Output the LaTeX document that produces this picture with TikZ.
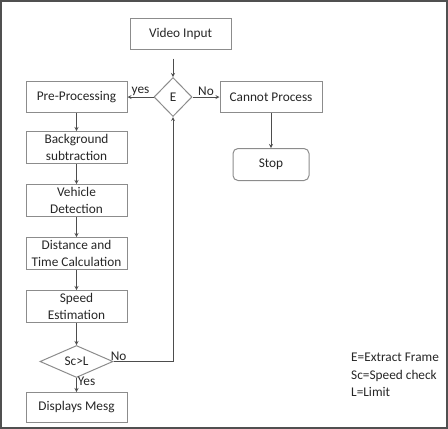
\documentclass[tikz,border=0pt]{standalone}
\usepackage{fontspec}
\setmainfont{Carlito}
\usetikzlibrary{shapes.geometric, arrows, positioning}
\definecolor{boxline}{HTML}{8C8C8C}
\definecolor{arrowline}{HTML}{4D4D4D}
\definecolor{frameline}{HTML}{505050}
\tikzset{
    process/.style={draw=boxline, rectangle, line width=1pt, align=center, minimum width=101pt, minimum height=32pt, inner sep=1pt, text=black!85, font=\fontsize{13.3}{17}\selectfont},
    terminal/.style={process, rounded corners=5pt, minimum width=76pt},
    decision/.style={draw=boxline, diamond, line width=1pt, inner sep=0pt, text=black!85, font=\fontsize{13.3}{17}\selectfont},
    tag/.style={inner sep=1pt, text=black!85, font=\fontsize{13.3}{17.5}\selectfont},
    arrow/.style={->, >=stealth, line width=0.8pt, draw=arrowline}
}
\begin{document}
\begin{tikzpicture}[x=1pt, y=-1pt, node distance=20pt and 26pt]

        % Cornice esterna
        \useasboundingbox (0,0) rectangle (448,429);
        \draw [draw=frameline, line width=2pt] (1,1) rectangle (447,428);

        % Ingresso e primo bivio
        \node (vin) [process, minimum height=31pt] at (180.5,33.5) {Video Input};
        \node (extract) [decision, minimum width=38pt, minimum height=39pt] at (173,97) {E};
        \node (pre) [process, minimum height=31pt, left=26pt of extract] {Pre-Processing};
        \node (nope) [process, minimum height=31pt, minimum width=102pt, right=27pt of extract] {Cannot Process};
        \node (stop) [terminal, below=35pt of nope] {Stop};

        % Colonna di elaborazione
        \node (bg) [process, below=18pt of pre] {Background\\subtraction};
        \node (veh) [process, below=of bg] {Vehicle\\Detection};
        \node (dist) [process, below=of veh] {Distance and\\Time Calculation};
        \node (speed) [process, below=of dist] {Speed\\Estimation};
        \node (check) [decision, aspect=2.3, minimum width=73pt, minimum height=32pt, below=22pt of speed] {Sc>L};
        \node (disp) [process, minimum height=30pt, below=14pt of check] {Displays Mesg};

        % Legenda
        \node (legend) [tag, align=left, anchor=west] at (350,375) {E=Extract Frame\\Sc=Speed check\\L=Limit};

        % Connessioni
        \draw [arrow, shorten <=9pt] (vin.south -| extract.north) -- (extract.north);
        \draw [arrow] (extract.west) -- node [tag, above] {yes} (pre.east);
        \draw [arrow] (extract.east) -- node [tag, above] {No} (nope.west);
        \draw [arrow] (nope) -- (stop);
        \draw [arrow] (pre) -- (bg);
        \draw [arrow] (bg) -- (veh);
        \draw [arrow] (veh) -- (dist);
        \draw [arrow] (dist) -- (speed);
        \draw [arrow] (speed) -- (check);
        \draw [arrow] (check.south) -- node [tag, near start, right] {Yes} (disp.north);
        \draw [arrow] (check.east) -| node [tag, pos=0, above right, xshift=-4pt] {No} (extract.south);

    \end{tikzpicture}
\end{document}
